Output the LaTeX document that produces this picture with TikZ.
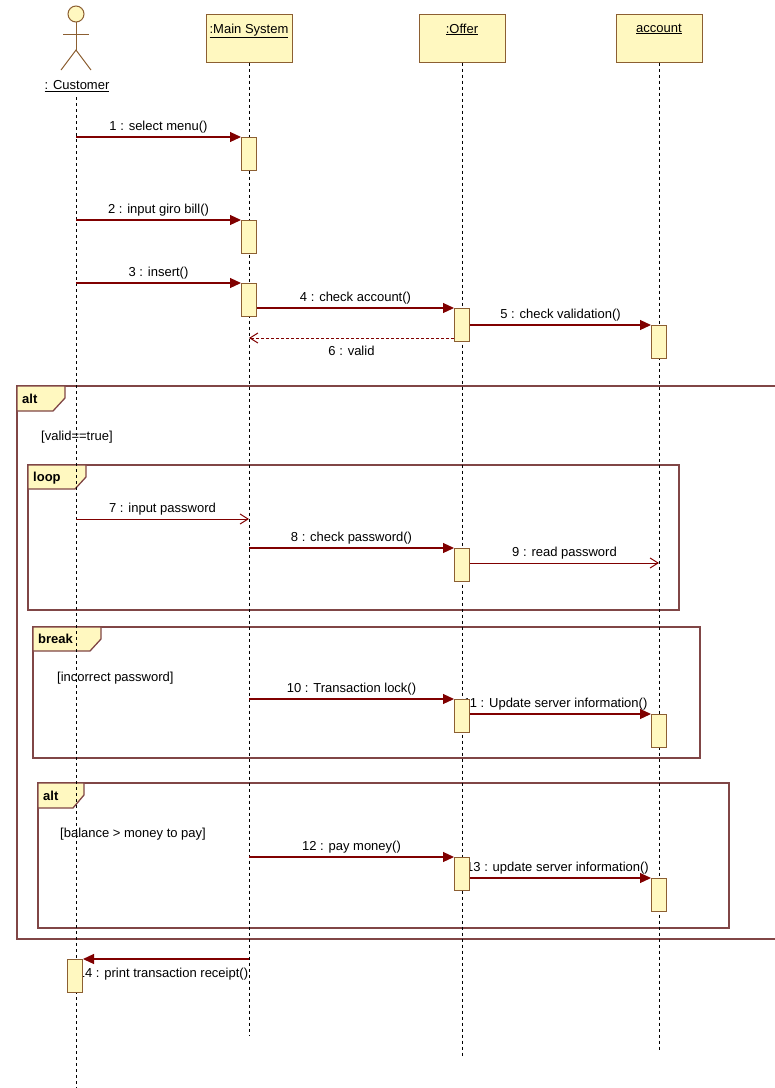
\documentclass[tikz,border=0pt]{standalone}
\usepackage{fontspec}
\setmainfont{Liberation Sans}
\usetikzlibrary{arrows.meta,positioning}

\definecolor{msgline}{RGB}{128,0,0}
\definecolor{frameline}{RGB}{128,70,70}
\definecolor{boxline}{RGB}{140,95,50}
\definecolor{boxfill}{RGB}{255,248,192}

\pgfdeclarelayer{front}
\pgfsetlayers{main,front}

\tikzset{
  txt/.style={inner sep=0pt, font=\fontsize{13}{15}\selectfont},
  head/.style={draw=boxline, fill=boxfill, line width=1pt, minimum width=86pt, minimum height=48pt, inner sep=0pt},
  act/.style={draw=boxline, fill=boxfill, line width=1pt, minimum width=15pt, minimum height=33pt, inner sep=0pt, anchor=north},
  life/.style={dash pattern=on 3pt off 3pt, line width=0.8pt},
  call/.style={draw=msgline, line width=1.2pt, -{Triangle[length=11pt,width=10pt,fill=msgline]}},
  async/.style={draw=msgline, line width=1pt, -{Straight Barb[length=8pt,width=10pt]}},
  reply/.style={async, dash pattern=on 3pt off 2pt},
  lbl/.style={txt, above=3pt},
  lblb/.style={txt, below=8pt},
  frame/.style={draw=frameline, line width=1.3pt},
  tab/.style={frame, fill=boxfill},
  tabtext/.style={txt, anchor=west, font=\fontsize{13}{15}\selectfont\bfseries},
  guard/.style={txt, anchor=west}
}

\begin{document}
\begin{tikzpicture}[x=1pt,y=-1pt]
\useasboundingbox (0,0) rectangle (775,1088);

% fragments
\draw[frame] (17,386) rectangle (790,939);
\draw[tab] (17,386) -- (65,386) -- (65,398) -- (53,411) -- (17,411) -- cycle;
\node[tabtext] at (22,399) {alt};
\node[guard] at (41,437) {[valid==true]};

\draw[frame] (28,465) rectangle (679,610);
\draw[tab] (28,465) -- (86,465) -- (86,477) -- (75,489) -- (28,489) -- cycle;
\node[tabtext] at (33,478) {loop};

\draw[frame] (33,627) rectangle (700,758);
\draw[tab] (33,627) -- (101,627) -- (101,639) -- (90,651) -- (33,651) -- cycle;
\node[tabtext] at (38,639) {break};
\node[guard] at (57,678) {[incorrect password]};

\draw[frame] (38,783) rectangle (729,928);
\draw[tab] (38,783) -- (84,783) -- (84,795) -- (73,808) -- (38,808) -- cycle;
\node[tabtext] at (43,796) {alt};
\node[guard] at (60,834) {[balance > money to pay]};

% actor
\draw[boxline, fill=boxfill, line width=1pt] (76,14) circle (8);
\draw[boxline, line width=1pt] (76,22) -- (76,50);
\draw[boxline, line width=1pt] (63,34) -- (89,34);
\draw[boxline, line width=1pt] (61,70) -- (76,50) -- (91,70);
\node[txt] (cu) at (77,86) {\underline{: Customer}};

% heads
\node[head] (ms) at (249,38) {};
\node[txt, below=10pt of ms.north] {\underline{:Main System}};
\node[head] (of) at (462,38) {};
\node[txt, below=10pt of of.north] {\underline{:Offer}};
\node[head] (ac) at (659,38) {};
\node[txt, below=10pt of ac.north] {\underline{account}};

% lifelines
\coordinate (cutop) at (76,97);
\coordinate (cuend) at (76,1088);
\coordinate (msend) at (249,1035);
\coordinate (ofend) at (462,1057);
\coordinate (acend) at (659,1050);
\draw[life] (cutop) -- (cuend);
\draw[life] (ms.south) -- (msend);
\draw[life] (of.south) -- (ofend);
\draw[life] (ac.south) -- (acend);

% activations
\begin{pgfonlayer}{front}
\node[act] (m1) at (249,137) {};
\node[act] (m2) at (249,220) {};
\node[act] (m3) at (249,283) {};
\node[act] (o4) at (462,308) {};
\node[act] (a5) at (659,325) {};
\node[act] (o8) at (462,548) {};
\node[act] (o10) at (462,699) {};
\node[act] (a11) at (659,714) {};
\node[act] (o12) at (462,857) {};
\node[act] (a13) at (659,878) {};
\node[act] (c14) at (75,959) {};
\end{pgfonlayer}

% messages
\coordinate (c1) at (76,137);
\coordinate (c2) at (76,220);
\coordinate (c3) at (76,283);
\coordinate (r6) at (249,338);
\coordinate (c7) at (76,519);
\coordinate (m7) at (249,519);
\coordinate (m8) at (249,548);
\coordinate (a9) at (659,563);
\coordinate (m10) at (249,699);
\coordinate (m12) at (249,857);
\coordinate (m14) at (249,959);

\draw[call] (c1) -- node[lbl] {1 : select menu()} (m1.north west);
\draw[call] (c2) -- node[lbl] {2 : input giro bill()} (m2.north west);
\draw[call] (c3) -- node[lbl] {3 : insert()} (m3.north west);
\draw[call] (m3.east |- o4.north) -- node[lbl] {4 : check account()} (o4.north west);
\draw[call] (o4.east |- a5.north) -- node[lbl] {5 : check validation()} (a5.north west);
\draw[reply] (o4.west |- r6) -- node[lblb] {6 : valid} (r6);
\draw[async] (c7) -- node[lbl] {7 : input password} (m7);
\draw[call] (m8) -- node[lbl] {8 : check password()} (o8.north west);
\draw[async] (o8.east |- a9) -- node[lbl] {9 : read password} (a9);
\draw[call] (m10) -- node[lbl] {10 : Transaction lock()} (o10.north west);
\draw[call] (o10.east |- a11.north) -- node[lbl, xshift=-5pt] {11 : Update server information()} (a11.north west);
\draw[call] (m12) -- node[lbl] {12 : pay money()} (o12.north west);
\draw[call] (o12.east |- a13.north) -- node[lbl, xshift=-3pt] {13 : update server information()} (a13.north west);
\draw[call] (m14) -- node[lblb, xshift=-3pt] {14 : print transaction receipt()} (c14.north east);

\end{tikzpicture}
\end{document}
